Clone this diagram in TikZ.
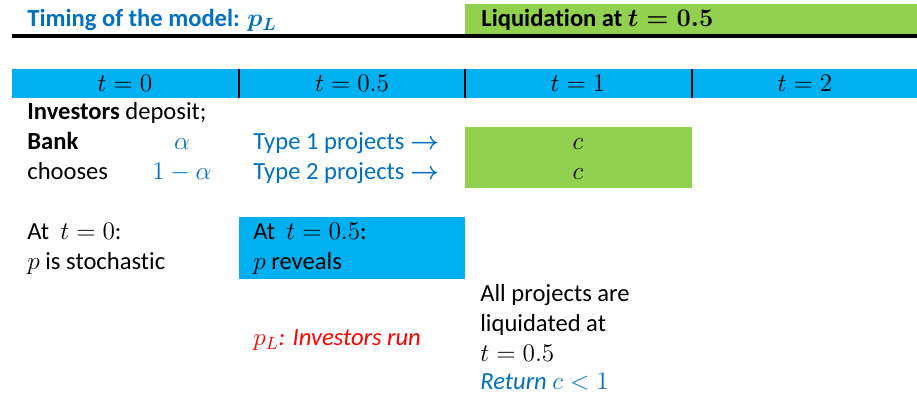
\documentclass[tikz,border=0pt]{standalone}
\usepackage{amsmath}
\usepackage{amssymb}
\usepackage{fontspec}
\setmainfont{Carlito}[Ligatures=NoCommon]
\usetikzlibrary{positioning}

\definecolor{titleblue}{RGB}{0,112,192}
\definecolor{barblue}{RGB}{0,176,240}
\definecolor{liqgreen}{RGB}{146,208,80}

\begin{document}
\begin{tikzpicture}[x=0.02cm, y=-0.02cm,
   txt/.style={anchor=base west, inner sep=0pt, font=\fontsize{14}{17}\selectfont},
   ctr/.style={anchor=base, inner sep=0pt, font=\fontsize{14}{17}\selectfont},
   divider/.style={line width=1.4pt}]
\useasboundingbox (0,0) rectangle (917,398);
% heading
\fill[liqgreen] (465,4) rectangle (917,35);
\node[txt, text=titleblue, font=\fontsize{14}{17}\selectfont\bfseries] (title) at (27,27) {Timing of the model: {\boldmath$p_L$}};
\node[txt, font=\fontsize{14}{17}\selectfont\bfseries] (liq) at (481,27) {Liquidation at {\boldmath$t=0.5$}};
\draw[line width=2.4pt] (12,36) -- (917,36);
% time bar
\fill[barblue] (12,69) rectangle (917,98);
\foreach \x in {239,465,692}
   \draw[divider] (\x,69) -- (\x,98);
\node[ctr] (t0) at (125,92) {$t=0$};
\node[ctr] (t05) at (352,92) {$t=0.5$};
\node[ctr] (t1) at (578,92) {$t=1$};
\node[ctr] (t2) at (805,92) {$t=2$};
% t = 0
\node[txt] (deposit) at (27,120) {\textbf{Investors} deposit;};
\node[txt] (bank) at (27,150) {\textbf{Bank}};
\node[txt] (chooses) at (27,180) {chooses};
\node[ctr, text=titleblue] (alpha) at (182,150) {$\alpha$};
\node[ctr, text=titleblue] (oneminus) at (182,180) {$1-\alpha$};
\node[txt] (att0) at (27,240) {At~ $t=0$:};
\node[txt] (stoch) at (27,270) {$p$ is stochastic};
% t = 0.5
\node[txt, text=titleblue] (type1) at (253,150) {Type 1 projects $\boldsymbol{\rightarrow}$};
\node[txt, text=titleblue] (type2) at (253,180) {Type 2 projects $\boldsymbol{\rightarrow}$};
\fill[barblue] (239,217) rectangle (465,279);
\node[txt] (att05) at (253,240) {At~ $t=0.5$:};
\node[txt] (reveal) at (253,270) {$p$ reveals};
\node[txt, text=red, font=\fontsize{14}{17}\selectfont\itshape] (run) at (253,346) {$p_L$: Investors run};
% t = 1
\fill[liqgreen] (465,127) rectangle (692,188);
\node[ctr] (c1) at (578,150) {$c$};
\node[ctr] (c2) at (578,180) {$c$};
\node[txt] (allproj) at (480,302) {All projects are};
\node[txt] (liqat) at (480,332) {liquidated at};
\node[txt] (thalf) at (480,362) {$t=0.5$};
\node[txt, text=titleblue, font=\fontsize{14}{17}\selectfont\itshape] (ret) at (480,390) {Return $c<1$};
\end{tikzpicture}
\end{document}
